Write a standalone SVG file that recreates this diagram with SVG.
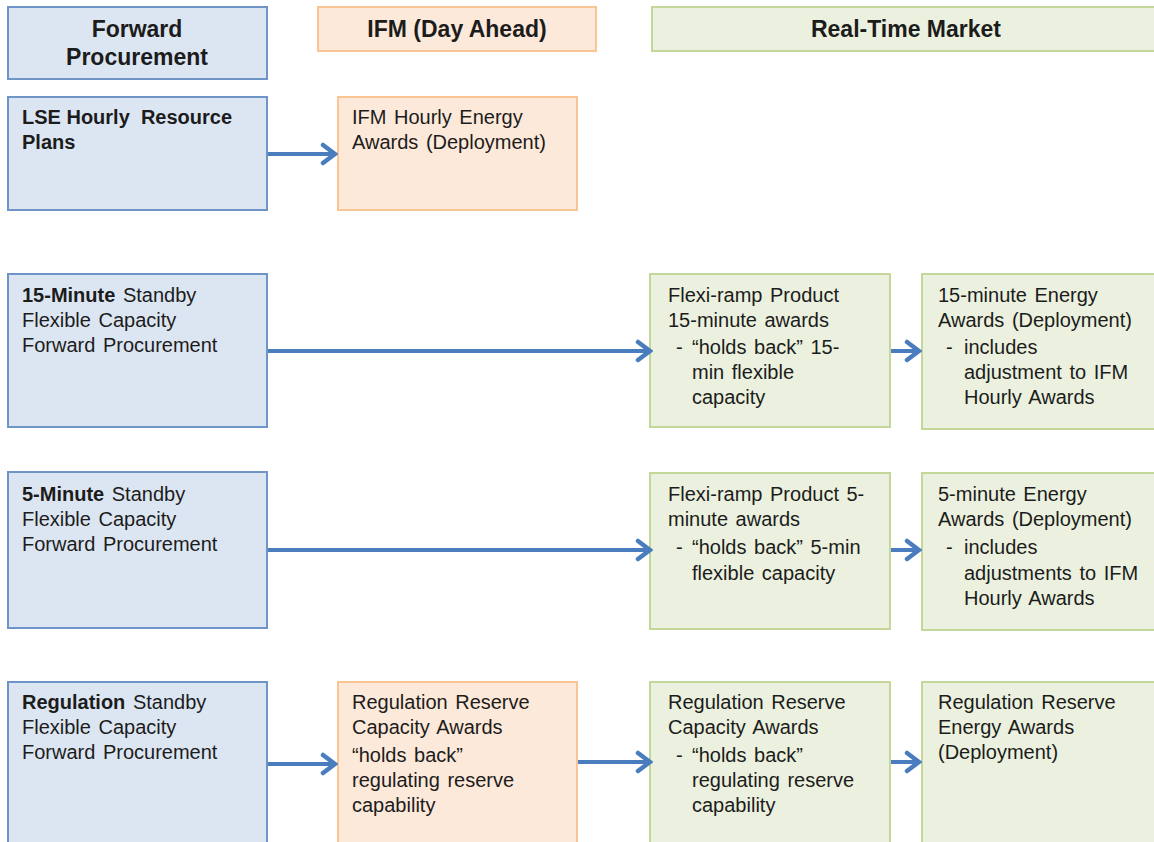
<svg xmlns="http://www.w3.org/2000/svg" width="1154" height="842" viewBox="0 0 1154 842">
<style>
.b{fill:#dce6f2;stroke:#6f94c8;stroke-width:2}
.o{fill:#fde9d9;stroke:#f9c595;stroke-width:2}
.g{fill:#ebf1de;stroke:#c4d79b;stroke-width:2}
text{font-family:"Liberation Sans",Arial,sans-serif;fill:#1c1c1c}
.h{font-size:23px;font-weight:bold;text-anchor:middle}
.t{font-size:20px;word-spacing:2px}
.bd{font-weight:bold}
.ns{word-spacing:0}
.c line{stroke:#4a7dbd;stroke-width:4;marker-end:url(#ah)}
</style>
<defs>
<marker id="ah" markerUnits="userSpaceOnUse" viewBox="0 0 18 24" refX="16" refY="12" markerWidth="18" markerHeight="24" orient="auto">
<path d="M3,3 L15,12 L3,21" fill="none" stroke="#4a7dbd" stroke-width="4.5" stroke-linecap="round"/>
</marker>
</defs>
<rect width="1154" height="842" fill="#ffffff"/>

<g id="hdr-forward"><rect class="b" x="8" y="7" width="259" height="72"/><text class="h" x="137" y="37">Forward</text><text class="h" x="137" y="65">Procurement</text></g>
<g id="hdr-ifm"><rect class="o" x="318" y="7" width="278" height="44"/><text class="h" x="457" y="37">IFM (Day Ahead)</text></g>
<g id="hdr-rt"><rect class="g" x="652" y="7" width="510" height="44"/><text class="h" x="906" y="37">Real-Time Market</text></g>

<g id="lse"><rect class="b" x="8" y="97" width="259" height="113"/><text class="t bd ns" x="22" y="124" xml:space="preserve">LSE Hourly  Resource</text><text class="t bd ns" x="22" y="149">Plans</text></g>
<g id="ifm-hourly"><rect class="o" x="338" y="97" width="239" height="113"/><text class="t" x="352" y="124">IFM Hourly Energy</text><text class="t" x="352" y="149">Awards (Deployment)</text></g>

<g id="fwd15"><rect class="b" x="8" y="274" width="259" height="153"/><text class="t" x="22" y="302"><tspan class="bd">15-Minute</tspan> Standby</text><text class="t" x="22" y="327">Flexible Capacity</text><text class="t" x="22" y="352">Forward Procurement</text></g>
<g id="flex15"><rect class="g" x="650" y="274" width="240" height="153"/><text class="t" x="668" y="302">Flexi-ramp Product</text><text class="t" x="668" y="327">15-minute awards</text><text class="t" x="676" y="354">-</text><text class="t" x="692" y="354">“holds back” 15-</text><text class="t" x="692" y="379">min flexible</text><text class="t" x="692" y="404">capacity</text></g>
<g id="en15"><rect class="g" x="922" y="274" width="240" height="155"/><text class="t" x="938" y="302">15-minute Energy</text><text class="t" x="938" y="327">Awards (Deployment)</text><text class="t" x="946" y="354">-</text><text class="t" x="964" y="354">includes</text><text class="t" x="964" y="379">adjustment to IFM</text><text class="t" x="964" y="404">Hourly Awards</text></g>

<g id="fwd5"><rect class="b" x="8" y="472" width="259" height="156"/><text class="t" x="22" y="501"><tspan class="bd">5-Minute</tspan> Standby</text><text class="t" x="22" y="526">Flexible Capacity</text><text class="t" x="22" y="551">Forward Procurement</text></g>
<g id="flex5"><rect class="g" x="650" y="473" width="240" height="156"/><text class="t" x="668" y="501">Flexi-ramp Product 5-</text><text class="t" x="668" y="526">minute awards</text><text class="t" x="676" y="554">-</text><text class="t" x="692" y="554">“holds back” 5-min</text><text class="t" x="692" y="580">flexible capacity</text></g>
<g id="en5"><rect class="g" x="922" y="473" width="240" height="157"/><text class="t" x="938" y="501">5-minute Energy</text><text class="t" x="938" y="526">Awards (Deployment)</text><text class="t" x="946" y="554">-</text><text class="t" x="964" y="554">includes</text><text class="t" x="964" y="580">adjustments to IFM</text><text class="t" x="964" y="605">Hourly Awards</text></g>

<g id="fwdreg"><rect class="b" x="8" y="682" width="259" height="170"/><text class="t" x="22" y="709"><tspan class="bd">Regulation</tspan> Standby</text><text class="t" x="22" y="734">Flexible Capacity</text><text class="t" x="22" y="759">Forward Procurement</text></g>
<g id="ifmreg"><rect class="o" x="338" y="682" width="239" height="170"/><text class="t" x="352" y="709">Regulation Reserve</text><text class="t" x="352" y="734">Capacity Awards</text><text class="t" x="352" y="762">“holds back”</text><text class="t" x="352" y="787">regulating reserve</text><text class="t" x="352" y="812">capability</text></g>
<g id="rtreg"><rect class="g" x="650" y="682" width="240" height="170"/><text class="t" x="668" y="709">Regulation Reserve</text><text class="t" x="668" y="734">Capacity Awards</text><text class="t" x="676" y="762">-</text><text class="t" x="692" y="762">“holds back”</text><text class="t" x="692" y="787">regulating reserve</text><text class="t" x="692" y="812">capability</text></g>
<g id="enreg"><rect class="g" x="922" y="682" width="240" height="170"/><text class="t" x="938" y="709">Regulation Reserve</text><text class="t" x="938" y="734">Energy Awards</text><text class="t" x="938" y="759">(Deployment)</text></g>

<g id="connectors" class="c">
<line x1="268" y1="154" x2="336" y2="154"/>
<line x1="268" y1="351" x2="651" y2="351"/>
<line x1="891" y1="351" x2="920" y2="351"/>
<line x1="268" y1="550" x2="651" y2="550"/>
<line x1="891" y1="550" x2="920" y2="550"/>
<line x1="268" y1="764" x2="336" y2="764"/>
<line x1="578" y1="762" x2="651" y2="762"/>
<line x1="891" y1="762" x2="920" y2="762"/>
</g>
</svg>
